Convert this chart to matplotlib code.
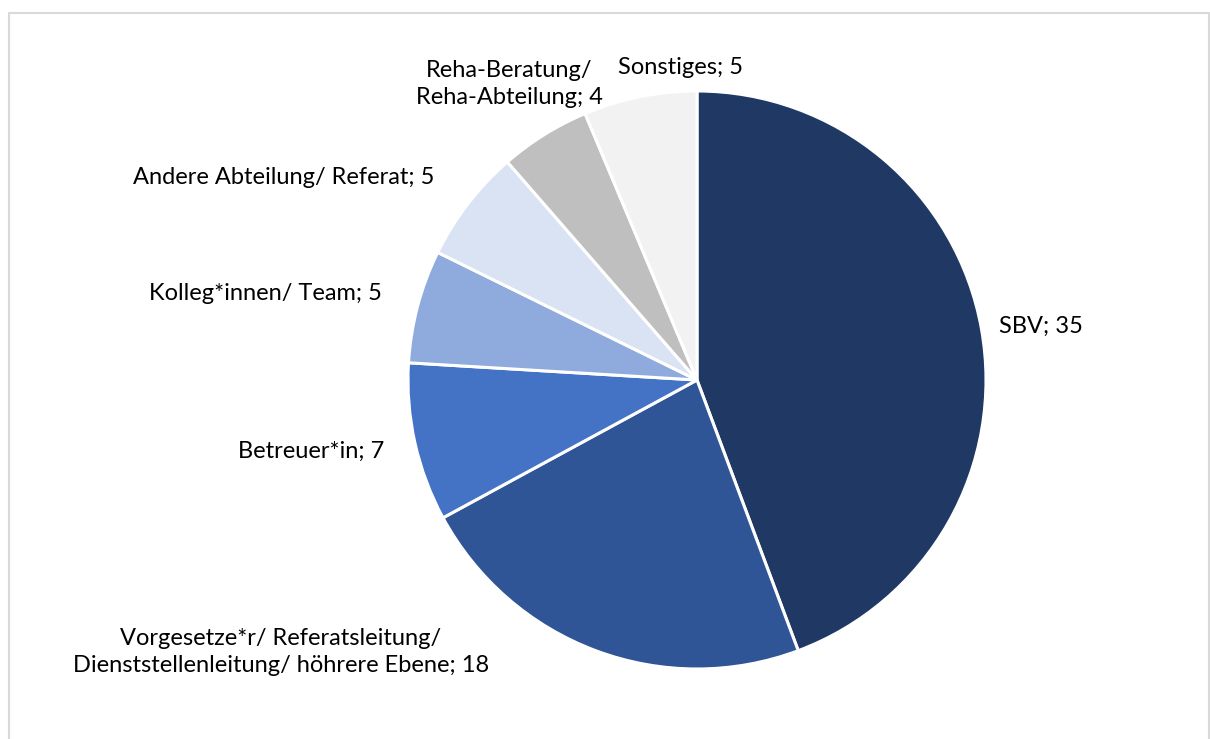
import matplotlib
matplotlib.use("Agg")
import matplotlib.pyplot as plt
from matplotlib.patches import Rectangle

categories = ["SBV", "Vorgesetze*r/ Referatsleitung/\nDienststellenleitung/ höhrere Ebene",
              "Betreuer*in", "Kolleg*innen/ Team", "Andere Abteilung/ Referat",
              "Reha-Beratung/\nReha-Abteilung", "Sonstiges"]
values = [35, 18, 7, 5, 5, 4, 5]
colors = ["#1F3864", "#2F5597", "#4472C4", "#8FAADC", "#DAE3F3", "#BFBFBF", "#F2F2F2"]
# label centre positions in pixel coordinates (x, y from top)
label_pos = [(1041, 326), (281, 652), (311, 451), (265, 293), (284, 178), (509, 84), (680, 67)]

W, H = 1210, 739
fig = plt.figure(figsize=(W / 100, H / 100), dpi=100)
fig.patches.append(Rectangle((8.5 / W, -0.05), (1209 - 8.5) / W, (H - 12.5) / H + 0.05,
                             transform=fig.transFigure, fill=False,
                             edgecolor="#D9D9D9", linewidth=1.5))
ax = fig.add_axes([0, 0, 1, 1])
ax.pie(values, colors=colors, startangle=90, counterclock=False,
       center=(697, H - 380), radius=289,
       wedgeprops=dict(edgecolor="white", linewidth=2.2))
ax.set_xlim(0, W)
ax.set_ylim(0, H)
ax.set_aspect("equal")
ax.axis("off")

for cat, val, (x, y) in zip(categories, values, label_pos):
    ax.text(x, H - y, f"{cat}; {val}", ha="center", va="center",
            fontsize=17, family="Lato", color="#000000", linespacing=1.35)

fig.savefig("out.png", dpi=100)
